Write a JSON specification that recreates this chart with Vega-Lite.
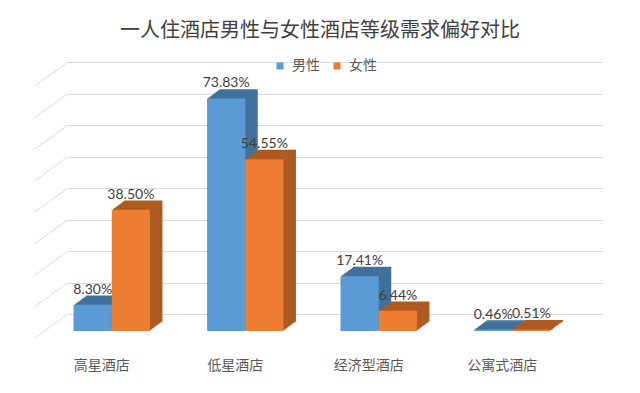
{
  "$schema": "https://vega.github.io/schema/vega-lite/v6.json",
  "width": 534,
  "height": 252,
  "autosize": {"type": "none"},
  "padding": {"left": 68, "top": 62, "right": 38, "bottom": 79},
  "background": "white",
  "config": {
    "font": "Noto Sans CJK SC",
    "view": {"stroke": null},
    "axisY": {"title": null, "domain": false, "ticks": false, "labels": false, "grid": true, "gridColor": "#d9d9d9", "gridWidth": 1}
  },
  "title": {
    "text": "一人住酒店男性与女性酒店等级需求偏好对比",
    "fontSize": 20,
    "fontWeight": "normal",
    "color": "#404040",
    "font": "Noto Sans CJK SC",
    "anchor": "middle",
    "dx": -15,
    "offset": 18
  },
  "datasets": {
    "bars": [
      {"category": "高星酒店", "gender": "男性", "pct": 0.083},
      {"category": "高星酒店", "gender": "女性", "pct": 0.385},
      {"category": "低星酒店", "gender": "男性", "pct": 0.7383},
      {"category": "低星酒店", "gender": "女性", "pct": 0.5455},
      {"category": "经济型酒店", "gender": "男性", "pct": 0.1741},
      {"category": "经济型酒店", "gender": "女性", "pct": 0.0644},
      {"category": "公寓式酒店", "gender": "男性", "pct": 0.0046},
      {"category": "公寓式酒店", "gender": "女性", "pct": 0.0051}
    ],
    "grid": [
      {"v": 0}, {"v": 0.1}, {"v": 0.2}, {"v": 0.3}, {"v": 0.4},
      {"v": 0.5}, {"v": 0.6}, {"v": 0.7}, {"v": 0.8}
    ]
  },
  "layer": [
    {
      "data": {"name": "grid"},
      "mark": {"type": "rule", "color": "#d9d9d9", "strokeWidth": 1, "x2Offset": -33, "y2Offset": 24},
      "encoding": {
        "x": {"value": 0},
        "x2": {"value": 0},
        "y": {"field": "v", "type": "quantitative", "scale": {"domain": [0, 0.8], "nice": false}, "axis": {"values": [0, 0.1, 0.2, 0.3, 0.4, 0.5, 0.6, 0.7, 0.8]}},
        "y2": {"field": "v"}
      }
    },
    {
      "data": {"name": "bars"},
      "encoding": {
        "x": {
          "field": "category", "type": "nominal", "sort": null,
          "scale": {"paddingInner": 0.427, "paddingOuter": 0.2135},
          "axis": {"title": null, "domain": false, "ticks": false, "tickSize": 0, "labelPadding": 44, "labelOffset": -33, "labelFontSize": 14, "labelColor": "#595959", "labelAngle": 0, "labelFont": "Noto Sans CJK SC"}
        },
        "y": {
          "field": "pct", "type": "quantitative",
          "scale": {"domain": [0, 0.8], "nice": false},
          "axis": {"values": [0, 0.1, 0.2, 0.3, 0.4, 0.5, 0.6, 0.7, 0.8]}
        }
      },
      "layer": [
        {"transform": [{"filter": "datum.gender === '男性'"}], "mark": {"type": "bar", "width": 38.2, "color": "#41719c", "xOffset": -29.6, "yOffset": 7.7}},
        {"transform": [{"filter": "datum.gender === '女性'"}], "mark": {"type": "bar", "width": 38.2, "color": "#ae5a21", "xOffset": 8.6, "yOffset": 7.7}},
        {"transform": [{"filter": "datum.gender === '男性'"}], "mark": {"type": "bar", "width": 38.2, "color": "#41719c", "xOffset": -30.85, "yOffset": 8.63}},
        {"transform": [{"filter": "datum.gender === '女性'"}], "mark": {"type": "bar", "width": 38.2, "color": "#ae5a21", "xOffset": 7.35, "yOffset": 8.63}},
        {"transform": [{"filter": "datum.gender === '男性'"}], "mark": {"type": "bar", "width": 38.2, "color": "#41719c", "xOffset": -32.1, "yOffset": 9.56}},
        {"transform": [{"filter": "datum.gender === '女性'"}], "mark": {"type": "bar", "width": 38.2, "color": "#ae5a21", "xOffset": 6.1, "yOffset": 9.56}},
        {"transform": [{"filter": "datum.gender === '男性'"}], "mark": {"type": "bar", "width": 38.2, "color": "#41719c", "xOffset": -33.35, "yOffset": 10.49}},
        {"transform": [{"filter": "datum.gender === '女性'"}], "mark": {"type": "bar", "width": 38.2, "color": "#ae5a21", "xOffset": 4.85, "yOffset": 10.49}},
        {"transform": [{"filter": "datum.gender === '男性'"}], "mark": {"type": "bar", "width": 38.2, "color": "#41719c", "xOffset": -34.6, "yOffset": 11.42}},
        {"transform": [{"filter": "datum.gender === '女性'"}], "mark": {"type": "bar", "width": 38.2, "color": "#ae5a21", "xOffset": 3.6, "yOffset": 11.42}},
        {"transform": [{"filter": "datum.gender === '男性'"}], "mark": {"type": "bar", "width": 38.2, "color": "#41719c", "xOffset": -35.85, "yOffset": 12.35}},
        {"transform": [{"filter": "datum.gender === '女性'"}], "mark": {"type": "bar", "width": 38.2, "color": "#ae5a21", "xOffset": 2.35, "yOffset": 12.35}},
        {"transform": [{"filter": "datum.gender === '男性'"}], "mark": {"type": "bar", "width": 38.2, "color": "#41719c", "xOffset": -37.1, "yOffset": 13.28}},
        {"transform": [{"filter": "datum.gender === '女性'"}], "mark": {"type": "bar", "width": 38.2, "color": "#ae5a21", "xOffset": 1.1, "yOffset": 13.28}},
        {"transform": [{"filter": "datum.gender === '男性'"}], "mark": {"type": "bar", "width": 38.2, "color": "#41719c", "xOffset": -38.35, "yOffset": 14.21}},
        {"transform": [{"filter": "datum.gender === '女性'"}], "mark": {"type": "bar", "width": 38.2, "color": "#ae5a21", "xOffset": -0.15, "yOffset": 14.21}},
        {"transform": [{"filter": "datum.gender === '男性'"}], "mark": {"type": "bar", "width": 38.2, "color": "#41719c", "xOffset": -39.6, "yOffset": 15.14}},
        {"transform": [{"filter": "datum.gender === '女性'"}], "mark": {"type": "bar", "width": 38.2, "color": "#ae5a21", "xOffset": -1.4, "yOffset": 15.14}},
        {"transform": [{"filter": "datum.gender === '男性'"}], "mark": {"type": "bar", "width": 38.2, "color": "#41719c", "xOffset": -40.85, "yOffset": 16.07}},
        {"transform": [{"filter": "datum.gender === '女性'"}], "mark": {"type": "bar", "width": 38.2, "color": "#ae5a21", "xOffset": -2.65, "yOffset": 16.07}},
        {
          "transform": [{"filter": "datum.gender === '男性'"}],
          "mark": {"type": "bar", "width": 38.2, "xOffset": -42.1, "yOffset": 17},
          "encoding": {
            "color": {
              "field": "gender", "type": "nominal",
              "scale": {"domain": ["男性", "女性"], "range": ["#5b9bd5", "#ed7d31"]},
              "legend": {"title": null, "orient": "none", "legendX": 205, "legendY": -3, "direction": "horizontal", "symbolType": "square", "symbolSize": 49, "symbolStrokeWidth": 0, "labelFontSize": 14, "labelColor": "#595959", "labelFont": "Noto Sans CJK SC", "labelOffset": 5, "columnPadding": 10}
            }
          }
        },
        {
          "transform": [{"filter": "datum.gender === '女性'"}],
          "mark": {"type": "bar", "width": 38.2, "xOffset": -3.9, "yOffset": 17},
          "encoding": {"color": {"field": "gender", "type": "nominal"}}
        },
        {
          "transform": [{"filter": "datum.gender === '男性'"}],
          "mark": {"type": "text", "xOffset": -42.1, "yOffset": 6, "baseline": "alphabetic", "fontSize": 14, "font": "Lato", "color": "#404040"},
          "encoding": {"text": {"field": "pct", "type": "quantitative", "format": ".2%"}}
        },
        {
          "transform": [{"filter": "datum.gender === '女性'"}],
          "mark": {"type": "text", "xOffset": -3.9, "yOffset": 6, "baseline": "alphabetic", "fontSize": 14, "font": "Lato", "color": "#404040"},
          "encoding": {"text": {"field": "pct", "type": "quantitative", "format": ".2%"}}
        }
      ]
    }
  ]
}
